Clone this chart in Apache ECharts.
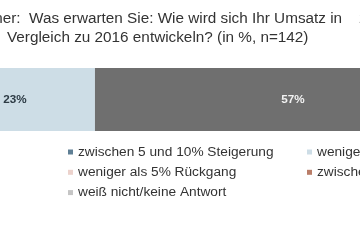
<!DOCTYPE html>
<html><head><meta charset="utf-8">
<script src="https://cdn.jsdelivr.net/npm/echarts@6/dist/echarts.min.js"></script>
<style>html,body{margin:0;padding:0;background:#fff;overflow:hidden;width:360px;height:240px}
#c{position:absolute;left:-300px;top:0;width:960px;height:240px}</style>
</head><body><div id="c"></div>
<script>
var titleLines = ['Unternehmer:  Was erwarten Sie: Wie wird sich Ihr Umsatz in    2017 im', 'Vergleich zu 2016 entwickeln? (in %, n=142)'];
var categories = ['Gesamt'];
var seriesNames = ['mehr als 10% Steigerung', 'zwischen 5 und 10% Steigerung', 'weniger als 5% Steigerung', 'gleichbleibend', 'weniger als 5% Rückgang', 'zwischen 5 und 10% Rückgang', 'mehr als 10% Rückgang', 'weiß nicht/keine Antwort'];
var seriesValues = [[4], [14], [23], [57], [1], [0], [0], [1]];
var seriesColors = ['#34546b', '#5f7f95', '#cddde6', '#6f6f6f', '#ecd2cc', '#b97d68', '#8b4a36', '#c5c5c5'];
var labelColors = ['#ffffff', '#ffffff', '#2d3b45', '#f2f2f2', '#333333', '#ffffff', '#ffffff', '#333333'];
// legend is laid out in three columns, items filled row by row
var legendColumns = [
  [seriesNames[0], seriesNames[3], seriesNames[6]],
  [seriesNames[1], seriesNames[4], seriesNames[7]],
  [seriesNames[2], seriesNames[5]]
];

var OFF = 300; // container is shifted 300px left of the viewport
var chart = echarts.init(document.getElementById('c'), null, {renderer: 'canvas'});
var FONT = '"Liberation Sans", Arial, sans-serif';
chart.setOption({
  animation: false,
  textStyle: {fontFamily: FONT},
  graphic: [
    {type: 'text', left: OFF - 73, top: 11, style: {text: titleLines[0], font: '15.3px ' + FONT, fill: '#333'}},
    {type: 'text', left: OFF + 7, top: 30, style: {text: titleLines[1], font: '15.3px ' + FONT, fill: '#333'}}
  ],
  legend: legendColumns.map(function (col, ci) {
    return {
      left: OFF - 176 + ci * 239, top: 140, orient: 'vertical', padding: 5,
      itemWidth: 5, itemHeight: 5, itemGap: 6.3, icon: 'rect',
      data: col,
      textStyle: {fontSize: 13.7, color: '#333', fontFamily: FONT}
    };
  }),
  grid: {left: OFF - 190, width: 695, top: 68, height: 63},
  xAxis: {type: 'value', min: 0, max: 100, show: false},
  yAxis: {type: 'category', data: categories, show: false},
  series: seriesNames.map(function (n, i) {
    return {
      name: n, type: 'bar', stack: 'all', barWidth: '100%',
      data: seriesValues[i],
      itemStyle: {color: seriesColors[i]},
      label: {show: seriesValues[i][0] > 0, formatter: '{c}%', color: labelColors[i], fontWeight: 'bold', fontSize: 11.7, fontFamily: FONT}
    };
  })
});
</script></body></html>
